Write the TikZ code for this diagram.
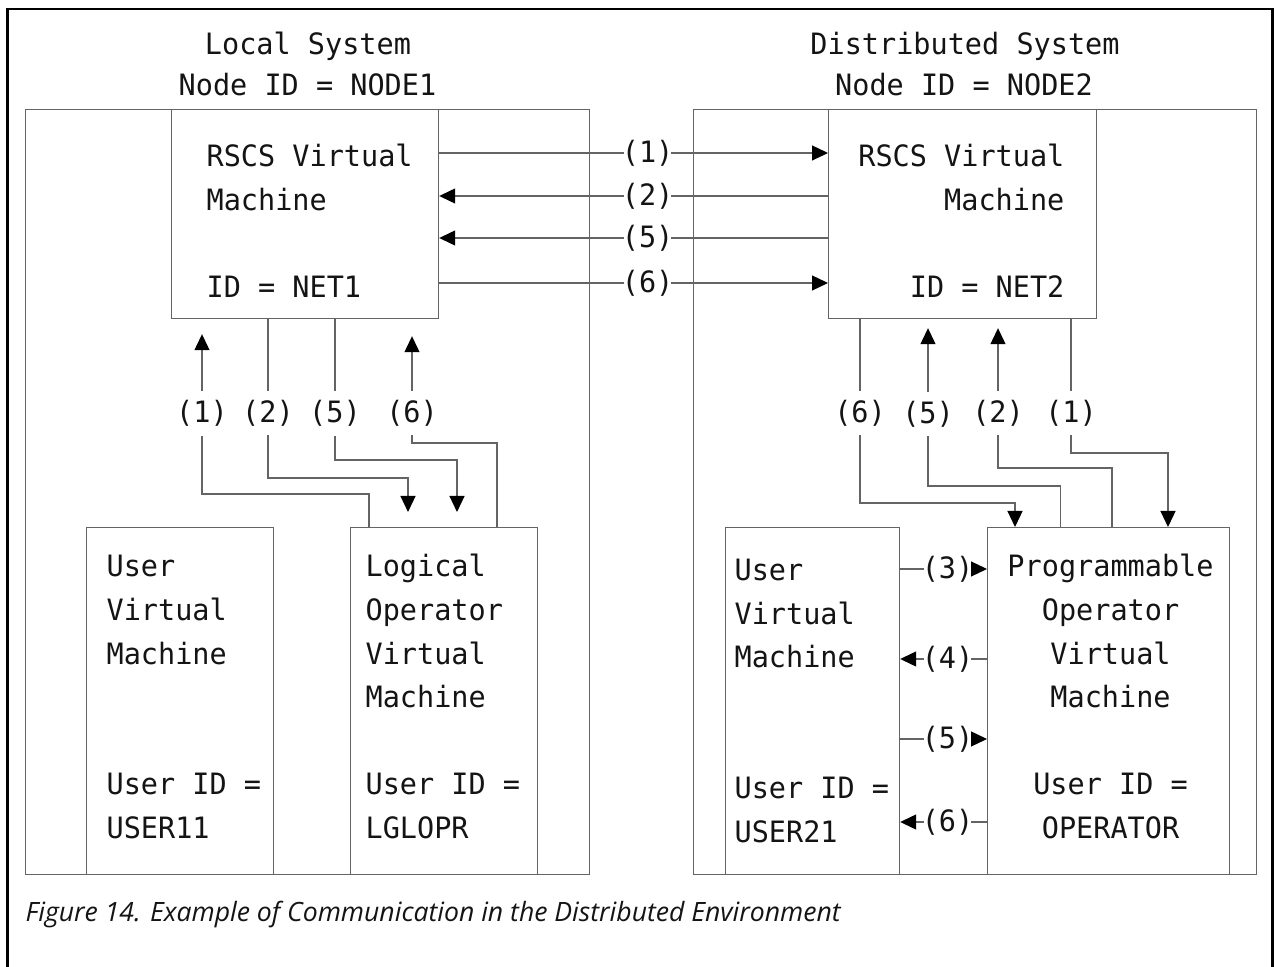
\documentclass[tikz,border=0pt]{standalone}
\usepackage{fontspec}
\setmonofont[FakeStretch=0.97]{DejaVu Sans Mono}
\newfontfamily\capfont{Open Sans}
\usetikzlibrary{arrows.meta,calc,positioning}
\definecolor{my_gray}{RGB}{100,100,100}
\definecolor{my_black}{RGB}{20,20,20}
\tikzset{
  sys_box/.style = {draw=my_gray, line width=0.6pt, inner sep=0pt, anchor=north west,
  minimum height=382.5pt},
  vm_box/.style = {sys_box, minimum height=173.5pt},
  vm_text/.style = {inner sep=0pt, text=my_black, font=\ttfamily\fontsize{14.7}{17}\selectfont},
  lbl_h/.style = {vm_text, fill=white, inner xsep=-1pt, inner ysep=1pt},
  lbl_v/.style = {vm_text, fill=white, inner xsep=1pt, inner ysep=4.5pt}
}

\begin{document}
\begin{tikzpicture}[x=0.5pt, y=-0.5pt, line width=0.6pt, draw=my_gray,
        >={Triangle[length=8pt,width=7.5pt,color=black]}]
  \useasboundingbox (0,0) rectangle (1274,967);
  % outer frame, open at the bottom
  \draw[black, line width=1.4pt] (7.5,990) |- (1272.5,9) -- (1272.5,990);

  % systems and virtual machines
  \node[sys_box, minimum width=282pt] (local_sys) at (25,109) {};
  \node[sys_box, minimum width=281.5pt] (dist_sys) at (693,109) {};
  \node[sys_box, minimum width=133.75pt, minimum height=104.5pt] (rscs_l) at (170.5,109) {};
  \node[sys_box, minimum width=134pt, minimum height=104.5pt] (rscs_r) at (828,109) {};
  \node[vm_box, minimum width=93.5pt] (user_l) at (86,527) {};
  \node[vm_box, minimum width=93.5pt] (lgl_opr) at (350,527) {};
  \node[vm_box, minimum width=87pt] (user_r) at (725,527) {};
  \node[vm_box, minimum width=121pt] (prog_opr) at (987,527) {};

  % headings
  \node[vm_text, anchor=base] (hdr_l1) at (308,55) {Local System};
  \node[vm_text, anchor=base] (hdr_l2) at (307.5,96) {Node ID = NODE1};
  \node[vm_text, anchor=base] (hdr_r1) at (965,55) {Distributed System};
  \node[vm_text, anchor=base] (hdr_r2) at (964,96) {Node ID = NODE2};

  % box texts
  \foreach \i/\t in {0/RSCS Virtual,1/Machine,3/ID = NET1}
    \node[vm_text, anchor=base west] (rl_\i) at (206,{167+43.5*\i}) {\t};
  \foreach \i/\t in {0/RSCS Virtual,1/Machine,3/ID = NET2}
    \node[vm_text, anchor=base east] (rr_\i) at (1065,{167+43.5*\i}) {\t};
  \foreach \i/\t in {0/User,1/Virtual,2/Machine,5/User ID =,6/USER11}
    \node[vm_text, anchor=base west] (ul_\i) at (106,{577+43.5*\i}) {\t};
  \foreach \i/\t in {0/Logical,1/Operator,2/Virtual,3/Machine,5/User ID =,6/LGLOPR}
    \node[vm_text, anchor=base west] (lo_\i) at (365,{577+43.5*\i}) {\t};
  \foreach \i/\t in {0/User,1/Virtual,2/Machine,5/User ID =,6/USER21}
    \node[vm_text, anchor=base west] (ur_\i) at (734,{581+43.5*\i}) {\t};
  \foreach \i/\t in {0/Programmable,1/Operator,2/Virtual,3/Machine,5/User ID =,6/OPERATOR}
    \node[vm_text, anchor=base] (po_\i) at (1110.5,{577+43.5*\i}) {\t};

  % RSCS to RSCS
  \foreach \y/\n in {153/1, 283/6}
    \draw[->] (rscs_l.east |- 0,\y) -- node[lbl_h, pos=.536] (top_\n) {(\n)} (rscs_r.west |- 0,\y);
  \foreach \y/\n in {196/2, 238/5}
    \draw[->] (rscs_r.west |- 0,\y) -- node[lbl_h, pos=.464] (top_\n) {(\n)} (rscs_l.east |- 0,\y);

  % local system
  \draw[->, shorten >=7.5pt] (lgl_opr.north -| 369,0) |- (202,494)
    -- node[lbl_v, pos=.46] (lv_1) {(1)} (rscs_l.south -| 202,0);
  \draw[->, shorten >=7.5pt] (rscs_l.south -| 268,0)
    -- node[lbl_v, pos=.59] (lv_2) {(2)} (268,478) -| (lgl_opr.north -| 408,0);
  \draw[->, shorten >=7.5pt] (rscs_l.south -| 335,0)
    -- node[lbl_v, pos=.67] (lv_5) {(5)} (335,460) -| (lgl_opr.north -| 457,0);
  \draw[->, shorten >=8.5pt] (lgl_opr.north -| 497,0) |- (412,443)
    -- node[lbl_v, pos=.24] (lv_6) {(6)} (rscs_l.south -| 412,0);

  % distributed system
  \draw[->] (rscs_r.south -| 860,0)
    -- node[lbl_v, pos=.51] (rv_6) {(6)} (860,503) -| (prog_opr.north -| 1015,0);
  \draw[->, shorten >=4.5pt] (prog_opr.north -| 1060.5,0) |- (928,486)
    -- node[lbl_v, pos=.43] (rv_5) {(5)} (rscs_r.south -| 928,0);
  \draw[->, shorten >=4.5pt] (prog_opr.north -| 1112,0) |- (998,468)
    -- node[lbl_v, pos=.37] (rv_2) {(2)} (rscs_r.south -| 998,0);
  \draw[->] (rscs_r.south -| 1071,0)
    -- node[lbl_v, pos=.70] (rv_1) {(1)} (1071,453) -| (prog_opr.north -| 1168,0);

  % user to programmable operator
  \foreach \y/\n in {569/3, 739/5}
    \draw[->] (user_r.east |- 0,\y) -- node[lbl_h, pos=.545] (mid_\n) {(\n)} (prog_opr.west |- 0,\y);
  \foreach \y/\n in {659/4, 822/6}
    \draw[->] (prog_opr.west |- 0,\y) -- node[lbl_h, pos=.455] (mid_\n) {(\n)} (user_r.east |- 0,\y);

  % caption
  \node[anchor=base west, inner sep=0pt, text=my_black,
    font=\capfont\itshape\fontsize{13.3}{16}\selectfont] (caption) at (25,921)
    {Figure 14. Example of Communication in the Distributed Environment};
\end{tikzpicture}
\end{document}
